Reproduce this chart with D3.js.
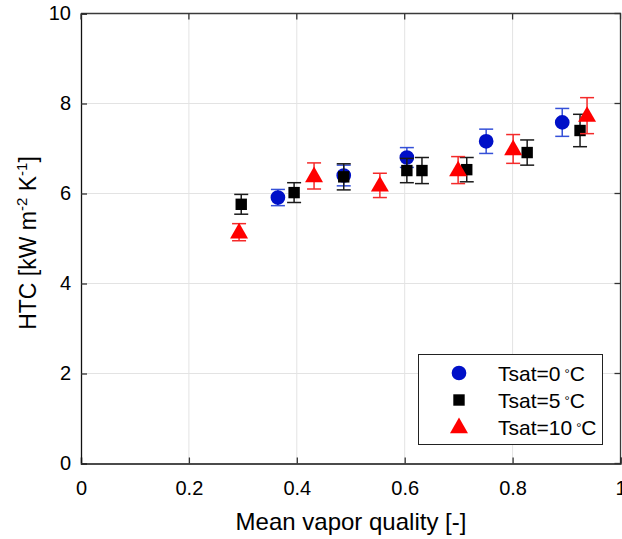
<!DOCTYPE html>
<html>
<head>
<meta charset="utf-8">
<script src="https://cdn.jsdelivr.net/npm/d3@7"></script>
<style>
  body { margin:0; background:white; }
  text { font-family: "Liberation Sans", Arial, sans-serif; }
</style>
</head>
<body>
<svg id="chart" width="622" height="539"></svg>
<script>
// Tsat = 0 C
const x0 = [0.365, 0.487, 0.604, 0.751, 0.892];
const y0 = [5.91, 6.40, 6.80, 7.16, 7.58];
const e0 = [0.18, 0.23, 0.22, 0.27, 0.31];
// Tsat = 5 C
const x5 = [0.297, 0.395, 0.487, 0.604, 0.632, 0.715, 0.827, 0.925];
const y5 = [5.76, 6.02, 6.37, 6.51, 6.51, 6.53, 6.91, 7.40];
const e5 = [0.22, 0.22, 0.29, 0.27, 0.29, 0.27, 0.28, 0.36];
// Tsat = 10 C
const x10 = [0.293, 0.432, 0.554, 0.699, 0.801, 0.938];
const y10 = [5.14, 6.39, 6.18, 6.52, 6.99, 7.73];
const e10 = [0.19, 0.29, 0.27, 0.30, 0.32, 0.40];

const xTicks = [0, 0.2, 0.4, 0.6, 0.8, 1];
const yTicks = [0, 2, 4, 6, 8, 10];
const seriesNames = ["Tsat=0", "Tsat=5", "Tsat=10"];

const svg = d3.select("#chart");
const pLeft = 81, pRight = 620.5, pTop = 13.5, pBottom = 463.5;

const x = d3.scaleLinear().domain([0, 1]).range([pLeft, pRight]);
const y = d3.scaleLinear().domain([0, 10]).range([pBottom, pTop]);

// grid
svg.append("g").selectAll("line").data(xTicks.slice(1, -1)).join("line")
  .attr("x1", d => x(d)).attr("x2", d => x(d)).attr("y1", pTop).attr("y2", pBottom)
  .attr("stroke", "#e3e3e3").attr("stroke-width", 1);
svg.append("g").selectAll("line").data(yTicks.slice(1, -1)).join("line")
  .attr("y1", d => y(d)).attr("y2", d => y(d)).attr("x1", pLeft).attr("x2", pRight)
  .attr("stroke", "#e3e3e3").attr("stroke-width", 1);

// box top/right
svg.append("path")
  .attr("d", `M${pLeft},${pTop}H${pRight}V${pBottom}`)
  .attr("fill", "none").attr("stroke", "#3a3a3a").attr("stroke-width", 1.3);

// axes, ticks inward
const xAxis = svg.append("g").attr("transform", `translate(0,${pBottom})`)
  .call(d3.axisBottom(x).tickValues(xTicks).tickSize(-6).tickPadding(17)
    .tickFormat(d => d === 0 || d === 1 ? d3.format("d")(d) : d3.format(".1f")(d)));
const yAxis = svg.append("g").attr("transform", `translate(${pLeft},0)`)
  .call(d3.axisLeft(y).tickValues(yTicks).tickSize(-6).tickPadding(10).tickFormat(d3.format("d")));
[xAxis, yAxis].forEach(g => {
  g.select(".domain").attr("stroke", "#111").attr("stroke-width", 1.3);
  g.selectAll(".tick line").attr("stroke", "#333").attr("stroke-width", 1.3);
  g.selectAll(".tick text").attr("font-size", 20).attr("fill", "#000")
    .style("font-family", "'Liberation Sans', Arial, sans-serif");
});
xAxis.selectAll(".tick text").attr("dy", "0.71em");
// right and top inward ticks
svg.append("g").selectAll("line").data(yTicks).join("line")
  .attr("x1", pRight - 6).attr("x2", pRight).attr("y1", d => y(d)).attr("y2", d => y(d))
  .attr("stroke", "#333").attr("stroke-width", 1.3);
svg.append("g").selectAll("line").data(xTicks).join("line")
  .attr("y1", pTop).attr("y2", pTop + 6).attr("x1", d => x(d)).attr("x2", d => x(d))
  .attr("stroke", "#333").attr("stroke-width", 1.3);

// axis labels
svg.append("text").attr("x", 351).attr("y", 530)
  .attr("text-anchor", "middle").attr("font-size", 24).text("Mean vapor quality [-]");
const yl = svg.append("text").attr("transform", "translate(36,243) rotate(-90)")
  .attr("text-anchor", "middle").attr("font-size", 23);
yl.append("tspan").text("HTC [kW m");
yl.append("tspan").attr("dy", -9).attr("font-size", 15).text("-2");
yl.append("tspan").attr("dy", 9).text(" K");
yl.append("tspan").attr("dy", -9).attr("font-size", 15).text("-1");
yl.append("tspan").attr("dy", 9).text("]");

// markers
const sym = {
  circle: d3.symbol().type(d3.symbolCircle).size(170),
  square: d3.symbol().type(d3.symbolSquare).size(130),
  triangle: d3.symbol().type(d3.symbolTriangle).size(140)
};
const series = [
  { xs: x0, ys: y0, es: e0, color: "#0010c8", bar: "#3550d8", shape: "circle" },
  { xs: x5, ys: y5, es: e5, color: "#000000", bar: "#1a1a1a", shape: "square" },
  { xs: x10, ys: y10, es: e10, color: "#ff0000", bar: "#f42a2a", shape: "triangle" }
];

function drawSeries(s) {
  const g = svg.append("g");
  const pts = s.xs.map((v, i) => ({ x: v, y: s.ys[i], e: s.es[i] }));
  const cap = 7;
  pts.forEach(p => {
    const cx = x(p.x);
    g.append("line").attr("x1", cx).attr("x2", cx).attr("y1", y(p.y + p.e)).attr("y2", y(p.y - p.e))
      .attr("stroke", s.bar).attr("stroke-width", 1.5);
    [p.y + p.e, p.y - p.e].forEach(v => {
      g.append("line").attr("x1", cx - cap).attr("x2", cx + cap).attr("y1", y(v)).attr("y2", y(v))
        .attr("stroke", s.bar).attr("stroke-width", 1.5);
    });
    g.append("path").attr("d", sym[s.shape]())
      .attr("transform", `translate(${cx},${y(p.y) + (s.shape === "triangle" ? 1 : 0)})`)
      .attr("fill", s.color);
  });
}
series.forEach(drawSeries);

// legend
const lg = svg.append("g");
lg.append("rect").attr("x", 418.5).attr("y", 354.5).attr("width", 184).attr("height", 90)
  .attr("fill", "white").attr("stroke", "#222").attr("stroke-width", 1);
series.forEach((s, i) => {
  const cy = 373 + i * 27;
  lg.append("path").attr("d", sym[s.shape]()).attr("transform", `translate(459,${cy + (s.shape === "triangle" ? 1 : 0)})`)
    .attr("fill", s.color);
  const t = lg.append("text").attr("x", 498).attr("y", cy + 8).attr("font-size", 21);
  t.append("tspan").text(seriesNames[i]);
  t.append("tspan").attr("dx", 4).attr("dy", -3).attr("font-size", 13).text("\u00B0");
  t.append("tspan").attr("dy", 3).text("C");
});
</script>
</body>
</html>
